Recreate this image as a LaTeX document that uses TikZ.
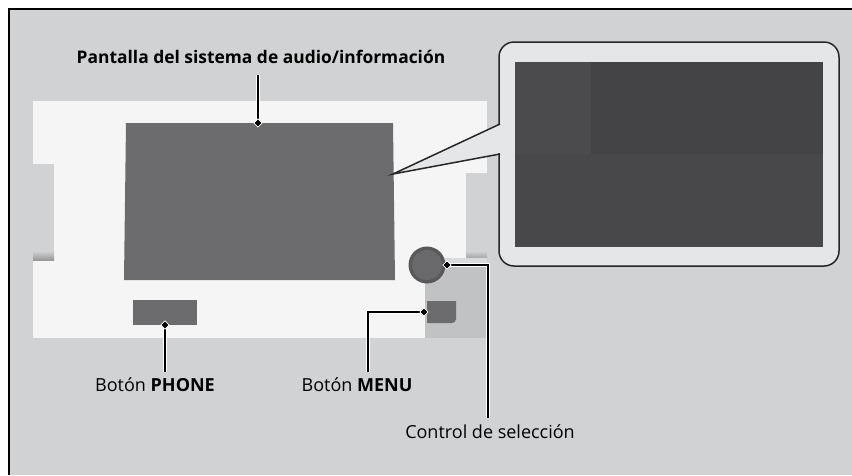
\documentclass[tikz,border=0pt]{standalone}
\usepackage{fontspec}
\setmainfont{Open Sans}
\usetikzlibrary{shapes.geometric}
\definecolor{bg}{HTML}{D1D2D4}
\definecolor{panel}{HTML}{F5F5F5}
\definecolor{screen}{HTML}{6C6C6E}
\definecolor{lowgray}{HTML}{C1C2C4}
\definecolor{callfill}{HTML}{E5E6E8}
\definecolor{calldark}{HTML}{444446}
\definecolor{callpatch}{HTML}{4B4B4D}
\definecolor{calllow}{HTML}{48484A}
\definecolor{knobring}{HTML}{59595B}
\definecolor{knobin}{HTML}{69696B}
\tikzset{
  leader/.style={line width=1.7pt, black, preaction={draw=white, line width=4.2pt}},
  dmark/.style={diamond, aspect=1, fill=black, draw=white, line width=0.8pt, inner sep=0pt, minimum width=8.5pt, minimum height=8.5pt},
  lbl/.style={font=\fontsize{18}{21}\selectfont, anchor=base, inner sep=0pt},
  notch/.style={fill=bg},
}
\begin{document}
\begin{tikzpicture}[x=1pt,y=-1pt]
\useasboundingbox (0,0) rectangle (852,475);
% background and frame
\fill[bg] (9,9) rectangle (852,475);
\draw[line width=1.5pt] (9,475) -- (9,9) -- (852,9);
% panel
\fill[panel] (33,101) rectangle (487,338);
% notches
\fill[bg] (33,164) rectangle (54,260);
\shade[top color=bg, bottom color=gray!80] (33,251) rectangle (54,260);
\fill[bg] (466,173) rectangle (487,260);
\shade[top color=bg, bottom color=gray!80] (466,251) rectangle (487,260);
% lower right gray area
\fill[lowgray] (425,263) rectangle (487,338);
\fill[bg!80!white] (445,258) rectangle (487,264);
% screen
\fill[screen] (126,123) -- (393,123) -- (395,280) -- (124,280) -- cycle;
% buttons
\fill[screen] (133,300) rectangle (197,325);
\fill[screen] (427,301) -- (456,301) -- (456,319) arc[start angle=0, end angle=90, radius=4] -- (427,323) -- cycle;
% knob
\fill[knobring] (427,265) circle[radius=18.5];
\fill[knobin] (427,265) circle[radius=15];
% callout tail and box
\fill[callfill] (393,174) -- (500,124) -- (500,154) -- cycle;
\draw[line width=1.5pt, draw=black!85, fill=callfill, rounded corners=15pt] (499,42) rectangle (839,266);
\fill[callfill] (497.5,124.6) rectangle (501,153.4);
\draw[line width=1.5pt, black!85] (500,124) -- (393,174) -- (500,154);
% inner callout screen
\fill[calllow] (515,62) rectangle (823,247);
\fill[calldark] (591,62) rectangle (823,154);
\fill[callpatch] (515,62) rectangle (591,154);
% labels
\node[lbl, font=\fontsize{17.4}{21}\selectfont] (tpant) at (261,63) {\bfseries Pantalla del sistema de audio/información};
\node[lbl] (tphone) at (155,391) {Botón \textbf{PHONE}};
\node[lbl] (tmenu) at (357,391) {Botón \textbf{MENU}};
\node[lbl] (tctrl) at (490,438) {Control de selección};
% leader ends
\coordinate (pant0) at (258,75);
\coordinate (ph0) at (165,372);
\coordinate (me0) at (368,372);
\coordinate (co0) at (488,418);
\coordinate (dpantc) at (258,123);
\coordinate (dphc) at (165,325);
\coordinate (dmec) at (424,312);
\coordinate (dcoc) at (447,265);
\draw[leader] (pant0) -- (dpantc);
\draw[leader] (ph0) -- (dphc);
\draw[leader] (me0) |- (dmec);
\draw[leader] (co0) |- (dcoc);
\node[dmark] (dpant) at (dpantc) {};
\node[dmark] (dph) at (dphc) {};
\node[dmark] (dme) at (dmec) {};
\node[dmark] (dco) at (dcoc) {};
\end{tikzpicture}
\end{document}
